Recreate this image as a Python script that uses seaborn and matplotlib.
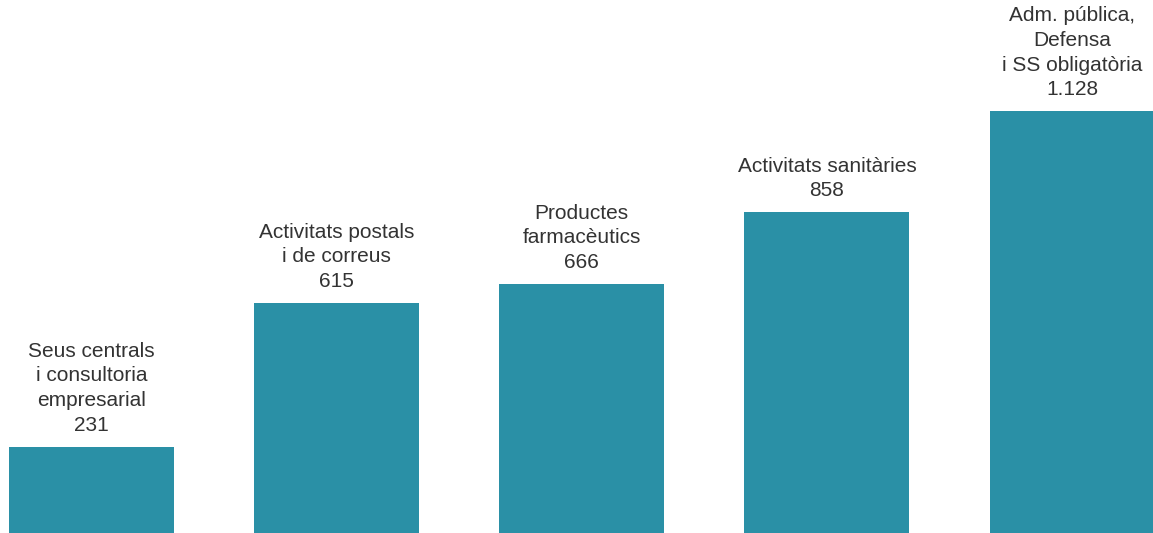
import matplotlib
matplotlib.use("Agg")
import matplotlib.pyplot as plt
import seaborn as sns
import pandas as pd

# %% Dades
categories = [
    "Seus centrals\ni consultoria\nempresarial",
    "Activitats postals\ni de correus",
    "Productes\nfarmacèutics",
    "Activitats sanitàries",
    "Adm. pública,\nDefensa\ni SS obligatòria",
]
values = [231, 615, 666, 858, 1128]

df = pd.DataFrame({"categoria": categories, "valor": values})

# %% Gràfic
sns.set_style("white")
plt.rcParams["font.family"] = ["Liberation Sans", "DejaVu Sans"]

fig = plt.figure(figsize=(11.53, 5.33), dpi=100)
ax = fig.add_axes([0, 0, 1, 1])

sns.barplot(data=df, x="categoria", y="valor", color="#2a90a6",
            saturation=1, width=0.673, linewidth=0, ax=ax)

ax.set_xlim(-0.373, 4.33)
ax.set_ylim(0, 1426)
ax.axis("off")

for i, (cat, val) in enumerate(zip(categories, values)):
    label = cat + "\n" + f"{val:,}".replace(",", ".")
    ax.annotate(label, xy=(i, val), xytext=(0, 12), textcoords="offset pixels",
                ha="center", va="bottom", fontsize=15, color="#333333",
                linespacing=1.38)

fig.savefig("out.png", dpi=100)
